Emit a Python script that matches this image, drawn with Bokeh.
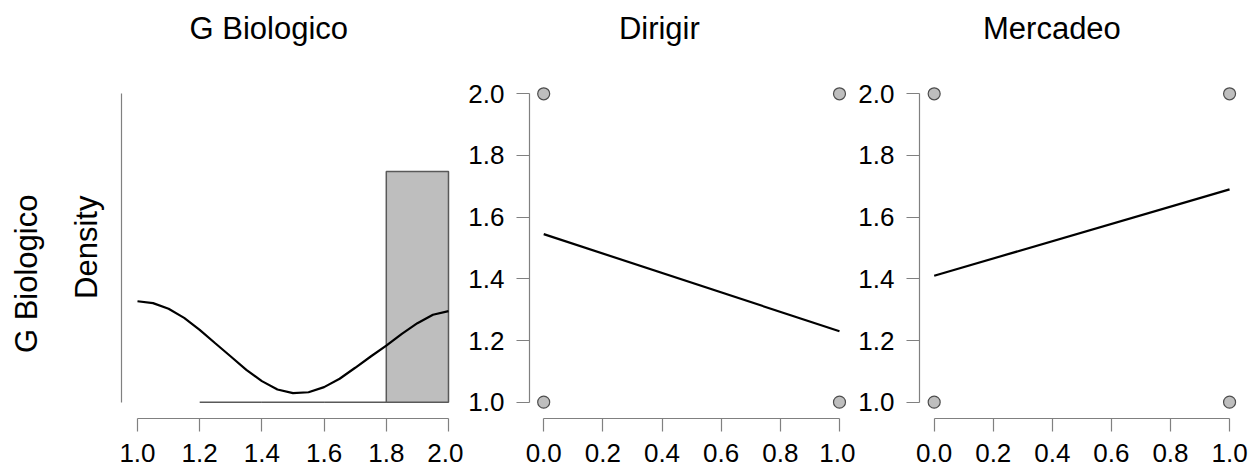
import math
from bokeh.plotting import figure
from bokeh.layouts import row
from bokeh.models import Range1d, FixedTicker, Label
from bokeh.embed import file_html
from bokeh.resources import INLINE

# ---------------- data ----------------
row_variable = "G Biologico"
density_label = "Density"
panel_titles = ["G Biologico", "Dirigir", "Mercadeo"]

hist_left = [1.2, 1.4, 1.6, 1.8]
hist_right = [1.4, 1.6, 1.8, 2.0]
hist_density = [0.0, 0.0, 0.0, 2.5]

dens_x = [1.00, 1.05, 1.10, 1.15, 1.20, 1.25, 1.30, 1.35, 1.40, 1.45, 1.50,
          1.55, 1.60, 1.65, 1.70, 1.75, 1.80, 1.85, 1.90, 1.95, 2.00]
dens_y = [1.094, 1.073, 1.012, 0.914, 0.784, 0.639, 0.495, 0.351, 0.228, 0.138, 0.098,
          0.108, 0.163, 0.254, 0.373, 0.495, 0.614, 0.741, 0.856, 0.947, 0.986]

dirigir_x = [0, 0, 1, 1]
dirigir_y = [1, 2, 1, 2]
dirigir_fit_x = [0, 1]
dirigir_fit_y = [1.545, 1.23]

mercadeo_x = [0, 0, 1, 1]
mercadeo_y = [1, 2, 1, 2]
mercadeo_fit_x = [0, 1]
mercadeo_fit_y = [1.41, 1.69]

hist_ticks = [1.0, 1.2, 1.4, 1.6, 1.8, 2.0]
unit_ticks = [0.0, 0.2, 0.4, 0.6, 0.8, 1.0]
y_ticks = [1.0, 1.2, 1.4, 1.6, 1.8, 2.0]

# ---------------- style ----------------
FONT = "Liberation Sans"
TICK_FS = "26px"
TITLE_FS = "31px"
AXIS_COL = "#808080"
H = 468
BB = 50  # bottom border shared by every panel


def base_fig(width, bl, br, xr, yr):
    p = figure(width=width, height=H, x_range=Range1d(*xr), y_range=Range1d(*yr),
               output_backend="svg", toolbar_location=None,
               min_border_left=bl, min_border_right=br,
               min_border_top=0, min_border_bottom=BB)
    p.outline_line_color = None
    p.xgrid.visible = False
    p.ygrid.visible = False
    p.background_fill_color = "white"
    p.border_fill_color = "white"
    for ax in (p.xaxis[0], p.yaxis[0]):
        ax.axis_line_color = AXIS_COL
        ax.axis_line_width = 1.2
        ax.major_tick_line_color = AXIS_COL
        ax.major_tick_line_width = 1.2
        ax.major_tick_out = 13
        ax.major_tick_in = 0
        ax.minor_tick_line_color = None
        ax.major_label_text_font = FONT
        ax.major_label_text_font_size = TICK_FS
        ax.major_label_text_color = "black"
    p.xaxis[0].major_label_standoff = 12
    p.yaxis[0].major_label_standoff = 12
    return p


def add_text(p, text, x, y, angle=0.0):
    p.add_layout(Label(x=x, y=y, text=text, angle=angle,
                       text_font=FONT, text_font_size=TITLE_FS, text_align="center",
                       text_baseline="middle", text_color="black"))


# ---- panel 0: row / y-axis labels (pixel-unit frame) ----
W0 = 110
p0 = figure(width=W0, height=H, x_range=Range1d(0, W0), y_range=Range1d(BB, H),
            output_backend="svg", toolbar_location=None, x_axis_type=None, y_axis_type=None,
            min_border_left=0, min_border_right=0, min_border_top=0, min_border_bottom=BB)
p0.outline_line_color = None
p0.background_fill_color = "white"
p0.border_fill_color = "white"
add_text(p0, row_variable, 26.0, H - 273.3, math.pi / 2)
add_text(p0, density_label, 86.0, H - 246.7, math.pi / 2)

# ---- panel 1: histogram + density ----
p1 = base_fig(463 - W0, 121 - W0, 3, (0.9486, 2.0386), (-0.1766, 4.352))
p1.quad(left=hist_left, right=hist_right, bottom=0, top=hist_density,
        fill_color="#bebebe", line_color="#595959", line_width=1.5)
p1.line(dens_x, dens_y, line_color="black", line_width=2.2)
p1.xaxis[0].ticker = FixedTicker(ticks=hist_ticks)
p1.xaxis[0].bounds = (1.0, 2.0)
p1.xaxis[0].major_label_overrides = {t: f"{t:.1f}" for t in hist_ticks}
ya = p1.yaxis[0]
ya.ticker = FixedTicker(ticks=[])
ya.bounds = (0, 3.345)
ya.major_tick_out = 0
ya.major_label_standoff = 0
add_text(p1, panel_titles[0], 1.4222, 4.053)


def scatter_panel(width, bl, br, xr, xs, ys, fx, fy, title, tx):
    p = base_fig(width, bl, br, xr, (0.9471, 2.3025))
    p.line(fx, fy, line_color="black", line_width=2.2)
    p.scatter(xs, ys, size=12, fill_color="#bebebe", line_color="#4d4d4d", line_width=1.2)
    p.xaxis[0].ticker = FixedTicker(ticks=unit_ticks)
    p.xaxis[0].bounds = (0.0, 1.0)
    p.xaxis[0].major_label_overrides = {t: f"{t:.1f}" for t in unit_ticks}
    p.yaxis[0].ticker = FixedTicker(ticks=y_ticks)
    p.yaxis[0].bounds = (1.0, 2.0)
    p.yaxis[0].major_label_overrides = {t: f"{t:.1f}" for t in y_ticks}
    add_text(p, title, tx, 2.213)
    return p


p2 = scatter_panel(392, 66, 4, (-0.048, 1.0406), dirigir_x, dirigir_y,
                   dirigir_fit_x, dirigir_fit_y, panel_titles[1], 0.391)
p3 = scatter_panel(393, 63, 8, (-0.0497, 1.037), mercadeo_x, mercadeo_y,
                   mercadeo_fit_x, mercadeo_fit_y, panel_titles[2], 0.3986)

layout = row(p0, p1, p2, p3, spacing=0)
open("out.html", "w").write(file_html(layout, INLINE))
